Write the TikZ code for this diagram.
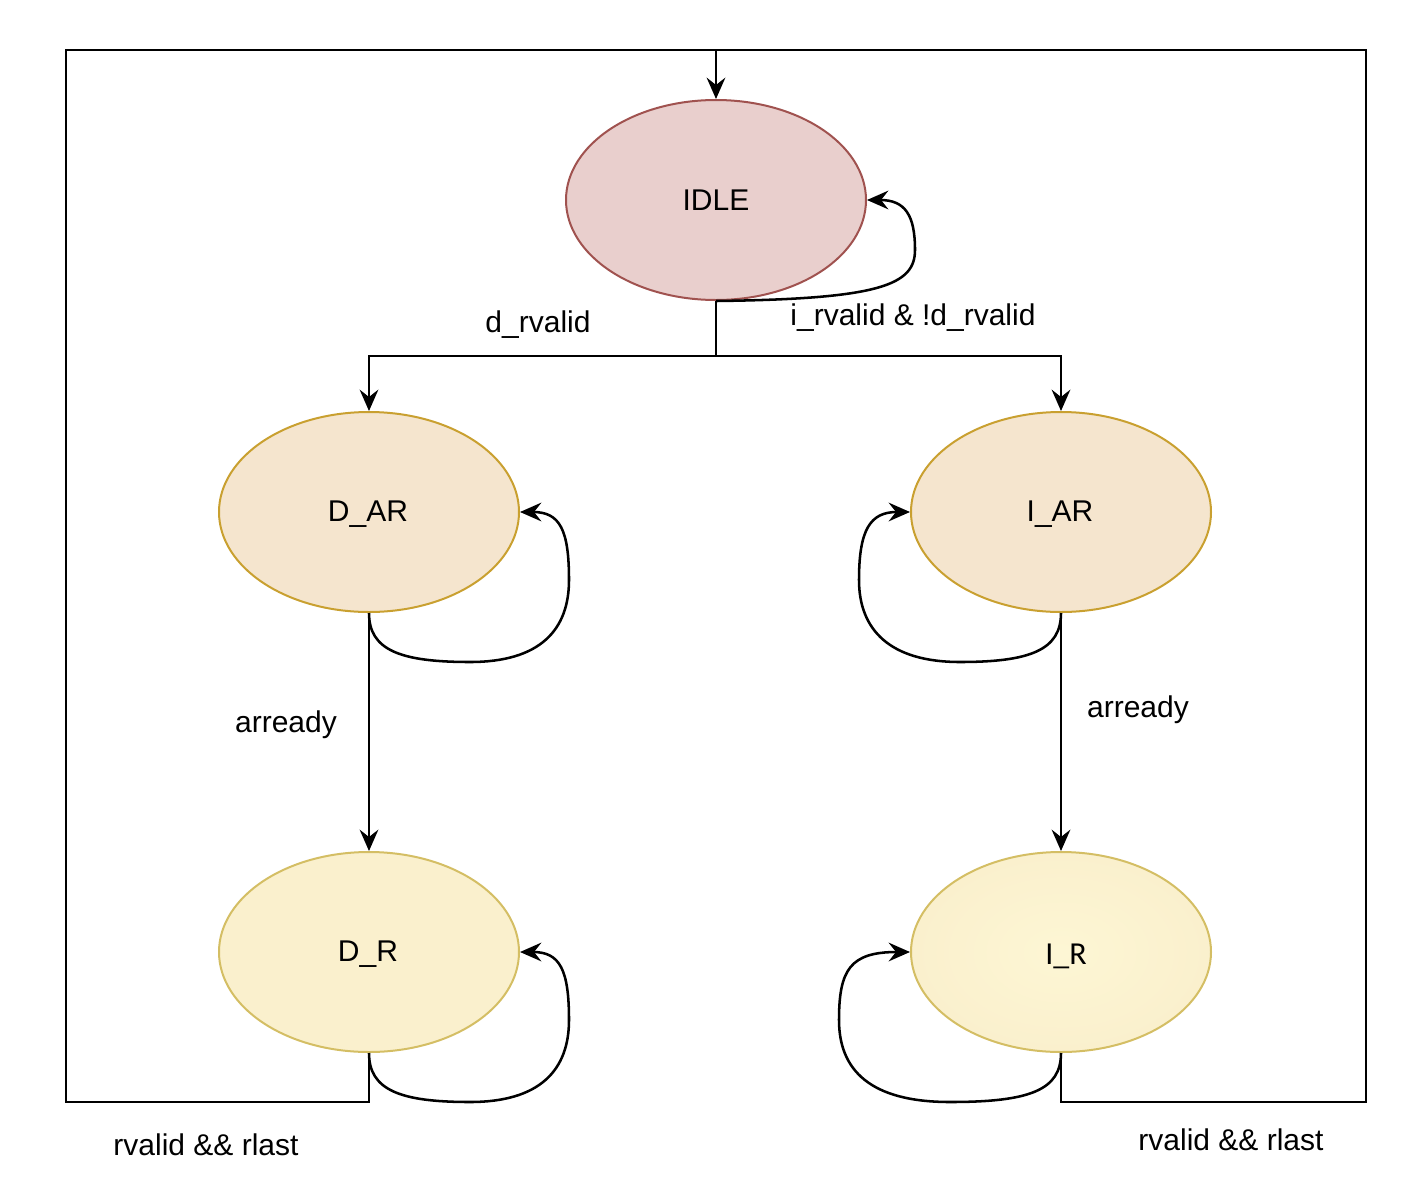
\documentclass[tikz,border=0pt]{standalone}
\usepackage{fontspec}
\setmainfont{Liberation Sans}
\newfontfamily\irfont{Carlito}
\usetikzlibrary{shapes.geometric,arrows.meta}
\definecolor{idlefill}{RGB}{233,207,205}
\definecolor{idledraw}{RGB}{160,82,79}
\definecolor{arfill}{RGB}{245,229,206}
\definecolor{ardraw}{RGB}{201,160,48}
\definecolor{rfill}{RGB}{250,240,205}
\definecolor{rdraw}{RGB}{212,190,100}
\definecolor{rcenter}{RGB}{253,246,212}
\tikzset{
  state/.style={ellipse, minimum width=225pt, minimum height=150pt, inner sep=0pt, line width=1.5pt, font=\fontsize{22.5}{27}\selectfont},
  edge/.style={line width=1.9pt, draw=black, -{Stealth[length=16pt,width=14pt,inset=5.5pt]}},
  plain/.style={line width=1.9pt, draw=black},
  lbl/.style={font=\fontsize{22.5}{27}\selectfont, inner sep=0pt}
}
\begin{document}
\begin{tikzpicture}[x=0.75pt,y=-0.75pt]
\useasboundingbox (0,0) rectangle (1407,1178);
\node[state, fill=idlefill, draw=idledraw] (IDLE) at (716,200) {IDLE};
\node[state, fill=arfill, draw=ardraw] (DAR) at (369,512) {};
\node[state, fill=arfill, draw=ardraw] (IAR) at (1061,512) {};
\node[state, fill=rfill, draw=rdraw] (DR) at (369,952) {};
\node[state, inner color=rcenter, outer color=rfill, draw=rdraw] (IR) at (1061,952) {};
\node[state, draw=none, fill=none] (DARt) at (368,514) {D\_AR};
\node[state, draw=none, fill=none] (IARt) at (1060,514) {I\_AR};
\node[state, draw=none, fill=none] (DRt) at (368,954) {D\_R};
\node[font=\irfont\fontsize{24}{28}\selectfont, inner sep=0pt] (IRt) at (1066,956) {I\_R};

\coordinate (J) at (716,356);
\coordinate (T) at (716,50);
\coordinate (LB) at (66,1102);
\coordinate (RB) at (1366,1102);

% top split
\draw[plain] (IDLE.south) -- (J);
\draw[edge] (J) -| (DAR.north);
\draw[edge] (J) -| (IAR.north);

% vertical transitions
\draw[edge] (DAR.south) -- (DR.north);
\draw[edge] (IAR.south) -- (IR.north);

% return paths
\draw[plain] (IR.south) |- (RB) |- (T);
\draw[edge] (DR.south) |- (LB) |- (T) -- (IDLE.north);

% self loops
\draw[edge] (IDLE.south) .. controls (880,299) and (915,285) .. (915,250)
  .. controls (915,215) and (905,200) .. (IDLE.east);
\draw[edge] (DAR.south) .. controls (369,650) and (400,662) .. (470,662)
  .. controls (540,662) and (569,630) .. (569,580)
  .. controls (569,530) and (560,512) .. (DAR.east);
\draw[edge] (IAR.south) .. controls (1061,650) and (1030,662) .. (960,662)
  .. controls (890,662) and (859,630) .. (859,580)
  .. controls (859,530) and (870,512) .. (IAR.west);
\draw[edge] (DR.south) .. controls (369,1090) and (400,1102) .. (470,1102)
  .. controls (540,1102) and (569,1070) .. (569,1020)
  .. controls (569,970) and (560,952) .. (DR.east);
\draw[edge] (IR.south) .. controls (1061,1090) and (1030,1102) .. (950,1102)
  .. controls (870,1102) and (839,1070) .. (839,1020)
  .. controls (839,970) and (850,952) .. (IR.west);

% labels
\node[lbl] (l1) at (538,325) {d\_rvalid};
\node[lbl] (l2) at (913,318) {i\_rvalid \& !d\_rvalid};
\node[lbl] (l3) at (286,725) {arready};
\node[lbl] (l4) at (1138,710) {arready};
\node[lbl] (l5) at (206,1145) {rvalid \&\& rlast};
\node[lbl] (l6) at (1231,1140) {rvalid \&\& rlast};
\end{tikzpicture}
\end{document}
